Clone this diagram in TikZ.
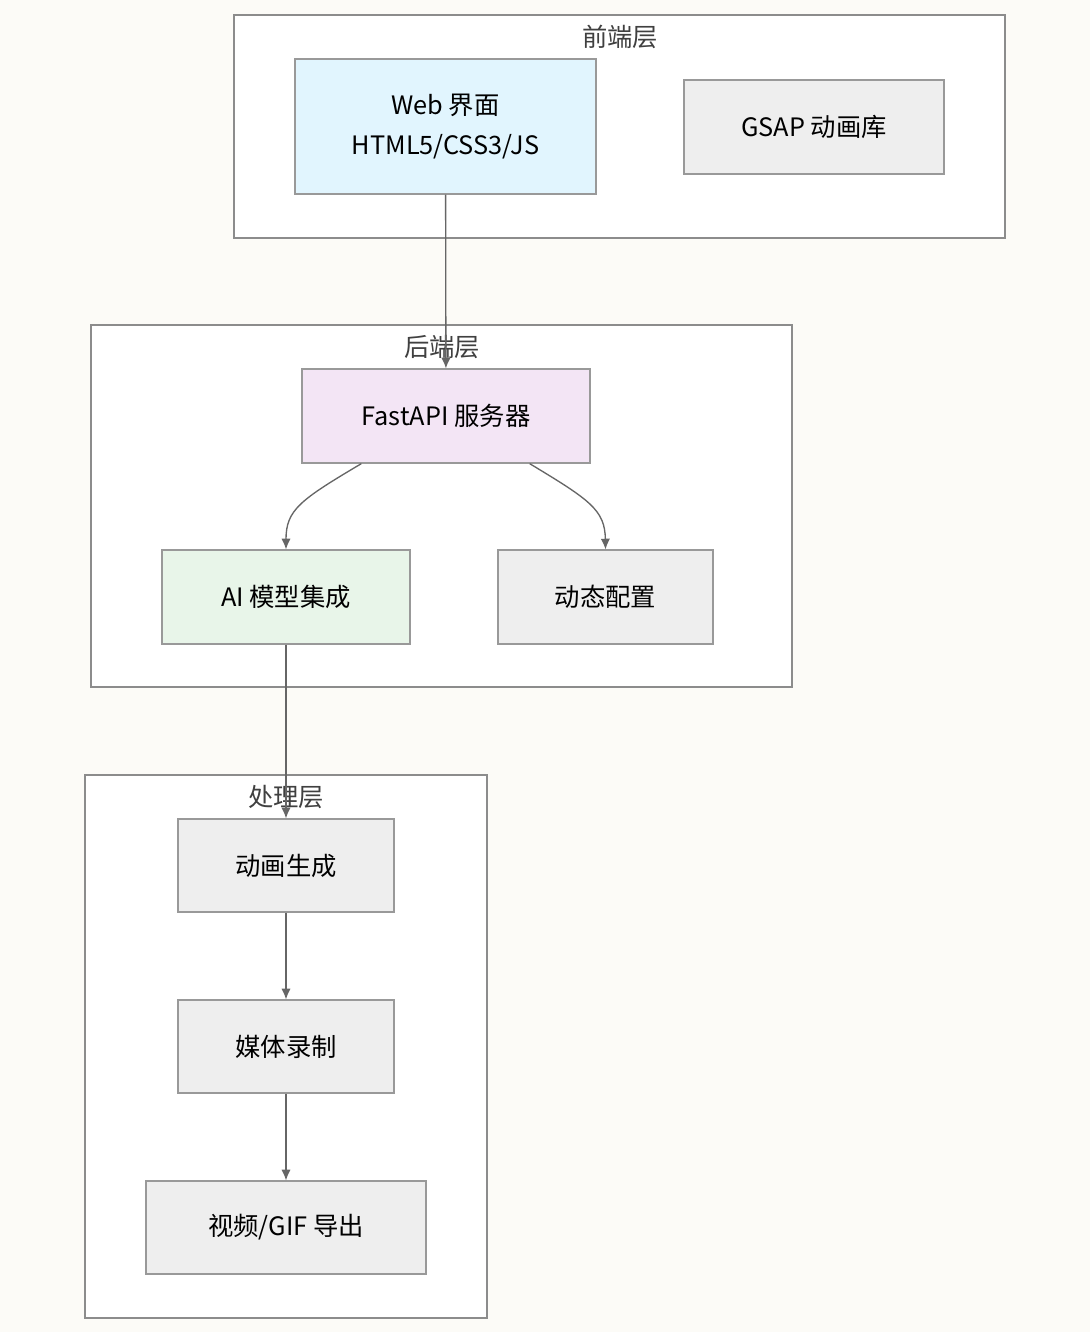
\documentclass[tikz,border=0pt]{standalone}
\usepackage{fontspec}
\setmainfont{Noto Sans CJK SC}
\begin{document}
\begin{tikzpicture}[x=0.75pt,y=-0.75pt,
 box/.style={draw=black!40,line width=0.9pt,fill=#1,font=\fontsize{19}{26}\selectfont,align=center,inner sep=0pt},
 clus/.style={draw=black!45,line width=0.9pt,fill=white},
 lab/.style={font=\fontsize{19}{24}\selectfont,text=black!75},
 arr/.style={draw=black!60,line width=1pt,-{Latex[length=8pt,width=7pt]}}]
\usetikzlibrary{arrows.meta}
\fill[fill={rgb,255:red,252;green,251;blue,247}] (0,0) rectangle (1090,1332);
\useasboundingbox (0,0) rectangle (1090,1332);
\definecolor{web}{HTML}{E1F5FE}\definecolor{fa}{HTML}{F3E5F5}\definecolor{ai}{HTML}{E8F5E9}\definecolor{gr}{HTML}{EEEEEE}
\draw[clus] (234,15) rectangle (1005,238);
\node[lab] (l1) at (620,37) {前端层};
\draw[clus] (91,325) rectangle (792,687);
\node[lab] (l2) at (442,347) {后端层};
\draw[clus] (85,775) rectangle (487,1318);
\node[lab] (l3) at (286,797) {处理层};
\node[box=web,minimum width=301*0.75pt,minimum height=135*0.75pt] (web) at (445.5,126.5) {Web 界面\\[4pt]HTML5/CSS3/JS};
\node[box=gr,minimum width=260*0.75pt,minimum height=94*0.75pt] (gsap) at (814,127) {GSAP 动画库};
\node[box=fa,minimum width=288*0.75pt,minimum height=94*0.75pt] (fa) at (446,416) {FastAPI 服务器};
\node[box=ai,minimum width=248*0.75pt,minimum height=94*0.75pt] (ai) at (286,597) {AI 模型集成};
\node[box=gr,minimum width=215*0.75pt,minimum height=94*0.75pt] (dyn) at (605.5,597) {动态配置};
\node[box=gr,minimum width=216*0.75pt,minimum height=93*0.75pt] (gen) at (286,865.5) {动画生成};
\node[box=gr,minimum width=216*0.75pt,minimum height=93*0.75pt] (rec) at (286,1046.5) {媒体录制};
\node[box=gr,minimum width=280*0.75pt,minimum height=93*0.75pt] (exp) at (286,1227.5) {视频/GIF 导出};
\draw[arr] (web) -- (fa);
\draw[arr] (fa.south west)++(60,0) coordinate (a1) (a1) .. controls (300,500) and (286,510) .. (ai.north);
\draw[arr] (fa.south east)++(-61,0) coordinate (a2) (a2) .. controls (590,500) and (605,510) .. (dyn.north);
\draw[arr] (ai) -- (gen);
\draw[arr] (gen) -- (rec);
\draw[arr] (rec) -- (exp);
\end{tikzpicture}
\end{document}
